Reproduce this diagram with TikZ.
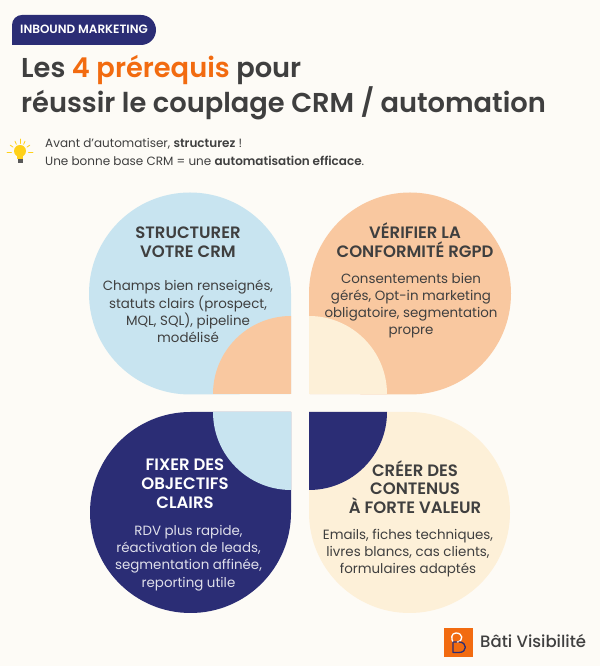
\documentclass[tikz,border=0pt]{standalone}
\usepackage{fontspec}
\setmainfont{Poppins}[BoldFont={Poppins SemiBold}]
\newfontfamily\brandfont{Poppins Medium}
\definecolor{paper}{HTML}{FDFBF6}
\definecolor{skyblue}{HTML}{C8E4F0}
\definecolor{peach}{HTML}{F9C8A0}
\definecolor{cream}{HTML}{FDF0D8}
\definecolor{navy}{HTML}{2B2D75}
\definecolor{hotorange}{HTML}{F26B10}
\definecolor{ink}{HTML}{3F3F3F}
\definecolor{bulb}{HTML}{FFD11A}
\tikzset{
  cardtitle/.style={font=\bfseries\fontsize{16.5}{18.8}\selectfont,align=center,text=ink,inner sep=0pt},
  cardbody/.style={font=\fontsize{13.4}{17.2}\selectfont,align=center,text=ink,inner sep=0pt},
  headline/.style={font=\bfseries\fontsize{27.3}{36}\selectfont,anchor=base west,text=ink,inner sep=0pt},
  subline/.style={font=\fontsize{12}{18}\selectfont,anchor=base west,text=ink,inner sep=0pt},
}
\begin{document}
\begin{tikzpicture}[x=1pt,y=1pt,line join=round,line cap=round]
\useasboundingbox (0,0) rectangle (600,666);
\fill[paper] (0,0) rectangle (600,666);
% header
\fill[navy] (12,621) -- (12,641) arc[start angle=180,end angle=90,radius=10] -- (141,651)
  arc[start angle=90,end angle=-90,radius=15] -- cycle;
\node[font=\bfseries\fontsize{12}{12}\selectfont,text=white,anchor=base west,inner sep=0pt] (tag) at (20,632) {INBOUND MARKETING};
\node[headline] (titleone) at (21,588.5) {Les \textcolor{hotorange}{4 prérequis} pour};
\node[headline] (titletwo) at (21,553) {réussir le couplage CRM / automation};
\node[subline] (subone) at (45,518) {Avant d’automatiser, \textbf{structurez} !};
\node[subline] (subtwo) at (45,500) {Une bonne base CRM = une \textbf{automatisation efficace}.};
% bulb
\foreach \a/\rr in {0/13,35/12,65/12,90/13,115/12,145/12,180/13}
  \draw[bulb,line width=.8pt,shift={(20,514)}] (\a:8.5) -- (\a:\rr);
\fill[bulb] (20,515) circle (6);
\fill[bulb] (17,511) rectangle (23,507);
\fill[gray!70!black] (17.5,507) rectangle (22.5,503);
% petals
\fill[skyblue] (291,272) -- (291,372.5) arc[start angle=0,end angle=270,radius=101] -- cycle;
\fill[peach] (309,272) -- (309,372.5) arc[start angle=180,end angle=-90,radius=101] -- cycle;
\fill[navy] (291,254) -- (190.5,254) arc[start angle=90,end angle=360,radius=100.5] -- cycle;
\fill[cream] (309,254) -- (309,153.5) arc[start angle=180,end angle=450,radius=100.5] -- cycle;
\fill[peach] (291,272) -- (213,272) arc[start angle=180,end angle=90,radius=78] -- cycle;
\fill[cream] (309,272) -- (309,350) arc[start angle=90,end angle=0,radius=78] -- cycle;
\fill[skyblue] (291,254) -- (291,176) arc[start angle=270,end angle=180,radius=78] -- cycle;
\fill[navy] (309,254) -- (387,254) arc[start angle=0,end angle=-90,radius=78] -- cycle;
% cards
\node[cardtitle] (structhead) at (188,424) {STRUCTURER\\VOTRE CRM};
\node[cardbody] (structbody) at (188,354.5) {Champs bien renseignés,\\statuts clairs (prospect,\\MQL, SQL), pipeline\\modélisé};
\node[cardtitle] (rgpdhead) at (415,425.5) {VÉRIFIER LA\\CONFORMITÉ RGPD};
\node[cardbody] (rgpdbody) at (411,360.5) {Consentements bien\\gérés, Opt-in marketing\\obligatoire, segmentation\\propre};
\node[cardtitle,text=white] (goalhead) at (185,182) {FIXER DES\\OBJECTIFS\\CLAIRS};
\node[cardbody,text=white!85!navy] (goalbody) at (188.5,108) {RDV plus rapide,\\réactivation de leads,\\segmentation affinée,\\reporting utile};
\node[cardtitle] (contenthead) at (415,179) {CRÉER DES\\CONTENUS\\À FORTE VALEUR};
\node[cardbody] (contentbody) at (408,113) {Emails, fiches techniques,\\livres blancs, cas clients,\\formulaires adaptés};
% logo
\fill[hotorange] (444,9) rectangle (473,38);
\draw[white,line width=1.3pt] (453,24) .. controls (451,27) and (451,33) .. (456,33) .. controls (463,33) and (464,25) .. (457,24);
\draw[navy,line width=1.3pt] (457,24) -- (453,24) -- (453,13.5) -- (459,13.5) .. controls (467.5,13.5) and (467.5,24) .. (459,24);
\node[font=\brandfont\fontsize{16.5}{18}\selectfont,text=ink,anchor=base west,inner sep=0pt] (brand) at (480,18) {Bâti Visibilité};
\end{tikzpicture}
\end{document}
